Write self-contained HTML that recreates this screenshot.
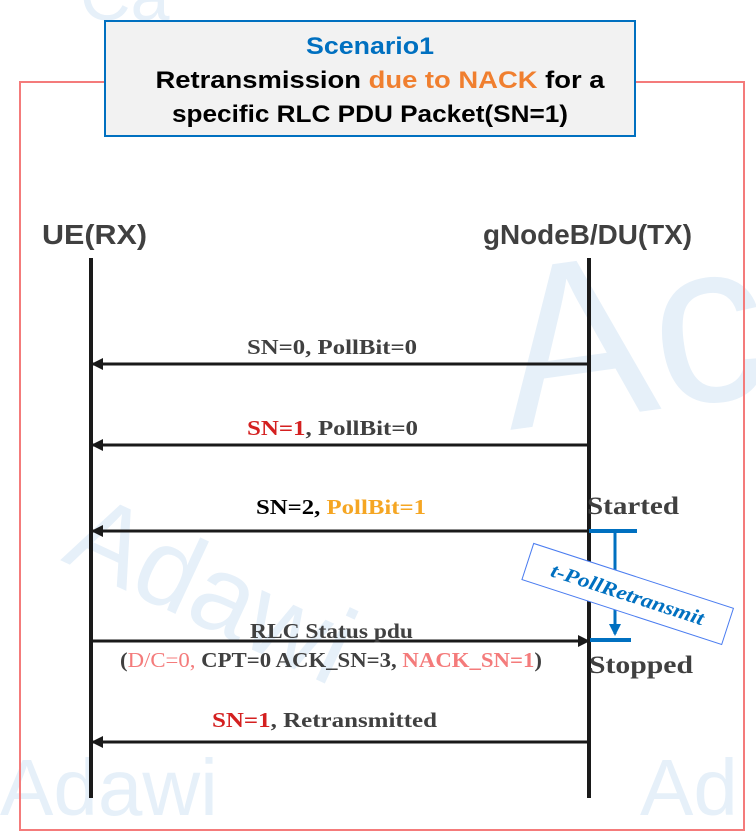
<!DOCTYPE html>
<html><head><meta charset="utf-8"><style>
html,body{margin:0;padding:0;background:#fff;}
svg{display:block;}
.t{font-family:"Liberation Serif",serif;font-weight:bold;fill:#404040;}
.h{font-family:"Liberation Sans Narrow","Liberation Sans",sans-serif;font-weight:bold;}
.w{font-family:"Liberation Sans",sans-serif;fill:#e6f0f9;}
</style></head><body>
<svg width="756" height="839" viewBox="0 0 756 839" xmlns="http://www.w3.org/2000/svg">
<defs>
<marker id="a" markerWidth="12" markerHeight="12" refX="11" refY="6" orient="auto" markerUnits="userSpaceOnUse"><path d="M0,0 L12,6 L0,12 z" fill="#1a1a1a"/></marker>
<marker id="b" markerWidth="12" markerHeight="12" refX="10" refY="6" orient="auto" markerUnits="userSpaceOnUse"><path d="M0,0 L12,6 L0,12 z" fill="#0070c0"/></marker>
</defs>
<text class="w" x="0" y="815" font-size="80">Adawi</text>
<text class="w" x="640" y="815" font-size="80">Ad</text>
<text class="w" x="60" y="560" font-size="110" transform="rotate(25 60 560)">Adawi</text>
<text class="w" x="510" y="430" font-size="230" transform="rotate(-8 510 430)">Ac</text>
<text class="w" x="80" y="20" font-size="70">Ca</text>
<rect x="20" y="82" width="724" height="748" fill="none" stroke="#f47b7b" stroke-width="2"/>
<rect x="105" y="21" width="530" height="115" fill="#f2f2f2" stroke="#0070c0" stroke-width="2"/>
<text class="h" x="370" y="54" font-size="24" text-anchor="middle" style="fill:#0070c0" textLength="128" lengthAdjust="spacingAndGlyphs">Scenario1</text>
<text class="h" x="380" y="88" font-size="24" text-anchor="middle" style="fill:#000" textLength="449" lengthAdjust="spacingAndGlyphs">Retransmission <tspan fill="#f07f2f">due to NACK</tspan> for a</text>
<text class="h" x="370" y="122" font-size="24" text-anchor="middle" style="fill:#000" textLength="396" lengthAdjust="spacingAndGlyphs">specific RLC PDU Packet(SN=1)</text>
<text class="h" x="42" y="244" font-size="28" style="fill:#404040" textLength="105" lengthAdjust="spacingAndGlyphs">UE(RX)</text>
<text class="h" x="483" y="244" font-size="28" style="fill:#404040" textLength="209" lengthAdjust="spacingAndGlyphs">gNodeB/DU(TX)</text>
<line x1="91" y1="258" x2="91" y2="798" stroke="#1a1a1a" stroke-width="4"/>
<line x1="589" y1="258" x2="589" y2="798" stroke="#1a1a1a" stroke-width="4"/>
<line x1="589" y1="364" x2="92" y2="364" stroke="#1a1a1a" stroke-width="3" marker-end="url(#a)"/>
<line x1="589" y1="445" x2="92" y2="445" stroke="#1a1a1a" stroke-width="3" marker-end="url(#a)"/>
<line x1="589" y1="531" x2="92" y2="531" stroke="#1a1a1a" stroke-width="3" marker-end="url(#a)"/>
<line x1="91" y1="641" x2="589" y2="641" stroke="#1a1a1a" stroke-width="3" marker-end="url(#a)"/>
<line x1="589" y1="742" x2="92" y2="742" stroke="#1a1a1a" stroke-width="3" marker-end="url(#a)"/>
<text class="t" x="247" y="354" font-size="21" textLength="170" lengthAdjust="spacingAndGlyphs">SN=0, PollBit=0</text>
<text class="t" x="247" y="435" font-size="21" textLength="171" lengthAdjust="spacingAndGlyphs"><tspan fill="#d42020">SN=1</tspan>, PollBit=0</text>
<text class="t" x="256" y="514" font-size="21" textLength="170" lengthAdjust="spacingAndGlyphs" style="fill:#000">SN=2, <tspan fill="#f5a623">PollBit=1</tspan></text>
<text class="t" x="250" y="638" font-size="21" textLength="163" lengthAdjust="spacingAndGlyphs">RLC Status pdu</text>
<text class="t" x="120" y="667" font-size="21" textLength="422" lengthAdjust="spacingAndGlyphs">(<tspan fill="#f47b7b" font-weight="normal">D/C=0, </tspan>CPT=0 ACK_SN=3, <tspan fill="#f47b7b">NACK_SN=1</tspan>)</text>
<text class="t" x="212" y="727" font-size="21" textLength="225" lengthAdjust="spacingAndGlyphs"><tspan fill="#d42020">SN=1</tspan>, Retransmitted</text>
<text class="t" x="587" y="514" font-size="25" textLength="92" lengthAdjust="spacingAndGlyphs">Started</text>
<text class="t" x="589" y="673" font-size="25" textLength="104" lengthAdjust="spacingAndGlyphs">Stopped</text>
<line x1="589" y1="531" x2="637" y2="531" stroke="#0070c0" stroke-width="4"/>
<line x1="615" y1="531" x2="615" y2="634" stroke="#0070c0" stroke-width="3" marker-end="url(#b)"/>
<line x1="590" y1="640" x2="631" y2="640" stroke="#0070c0" stroke-width="4"/>
<g transform="rotate(18 628 593)">
<rect x="523" y="575" width="210" height="38" fill="#fff" stroke="#4a7cf0" stroke-width="1"/>
<text class="t" x="628" y="601" font-size="20" text-anchor="middle" style="fill:#0070c0" font-style="italic" textLength="160" lengthAdjust="spacingAndGlyphs">t-PollRetransmit</text>
</g>
</svg>
</body></html>
